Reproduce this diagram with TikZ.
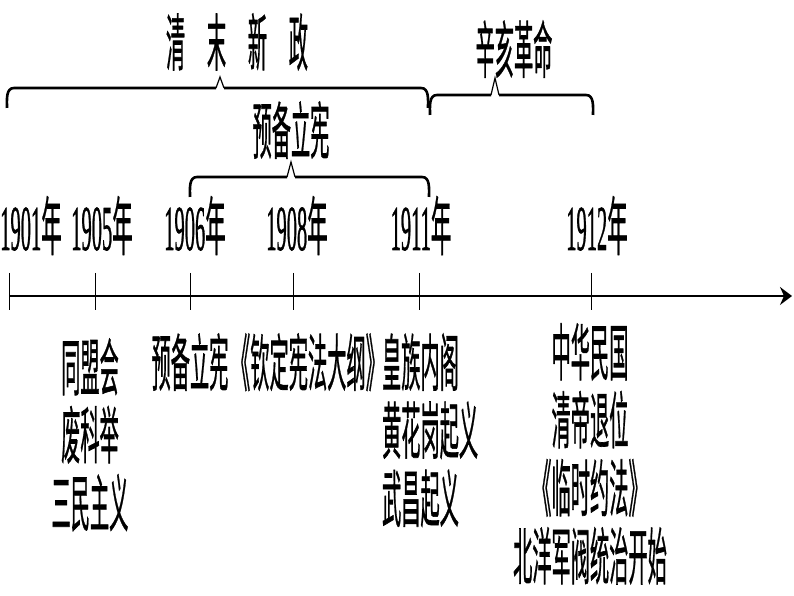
\documentclass[tikz,border=0pt]{standalone}
\usepackage{fontspec}
\setmainfont[FakeBold=1.2]{Liberation Serif}
\newfontfamily\zh[FakeBold=1.1]{Noto Sans CJK SC}
\usetikzlibrary{arrows.meta}
\newcommand{\kuohao}[5]{%
	\draw[brace] (#1,#4-20) to[out=90,in=180] (#1+7,#4) -- (#3-4,#4);
	\draw[brace] (#3+4,#4) -- (#2-7,#4) to[out=0,in=90] (#2,#4-20);
	\draw[brace tip] (#3-4,#4) -- (#3,#4+#5) -- (#3+4,#4);}

\begin{document}
\begin{tikzpicture}[x=1pt,y=1pt,
		brace/.style={line width=2.6pt},
		brace tip/.style={line width=1.2pt, line join=miter},
		axis/.style={line width=2.8pt, -{Stealth[length=12pt,width=18pt,inset=4pt]}},
		tick/.style={line width=0.9pt},
		year/.style={inner sep=0pt, anchor=base, xscale=0.32, font=\fontsize{64}{70}\selectfont},
		note/.style={inner sep=0pt, anchor=north, xscale=0.31, align=center, font=\zh\fontsize{62}{68}\selectfont},
		title/.style={inner sep=0pt, xscale=0.31, font=\zh\fontsize{62}{68}\selectfont}]
	\useasboundingbox (0,0) rectangle (794,596);
	% time axis
	\coordinate (start) at (9,300);
	\coordinate (end) at (792,300);
	\draw[axis] (start) -- (end);
	\foreach \yr/\x/\lx in {1901/9/31, 1905/95/102, 1906/190/195, 1908/293/297, 1911/419/421, 1912/591/597} {
		\coordinate (t\yr) at (\x,300);
		\draw[tick] ([yshift=23pt]t\yr) -- ([yshift=-14pt]t\yr);
		\node[year] (y\yr) at (\lx,346) {\yr{\zh 年}};
	}
	% braces and periods
	\kuohao{7}{428}{220}{508}{11}
	\kuohao{190}{429}{291}{419}{15}
	\kuohao{430}{593}{495}{501}{17}
	\node[title] (xinzheng) at (237,554) {清\hspace{70pt}末\hspace{70pt}新\hspace{70pt}政};
	\node[title] (yubei) at (291,466) {预备立宪};
	\node[title] (xinhai) at (514,547) {辛亥革命};
	% events
	\node[note] (tongmeng) at (90,258) {同盟会\\废科举\\三民主义};
	\node[note] (lixian) at (190,263) {预备立宪};
	\node[note] (dagang) at (308,263) {《钦定宪法大纲》};
	\node[note, anchor=north west, align=left] (neige) at (382,263) {皇族内阁\\黄花岗起义\\武昌起义};
	\node[note] (minguo) at (590,273) {中华民国\\清帝退位\\《临时约法》\\北洋军阀统治开始};
\end{tikzpicture}
\end{document}
